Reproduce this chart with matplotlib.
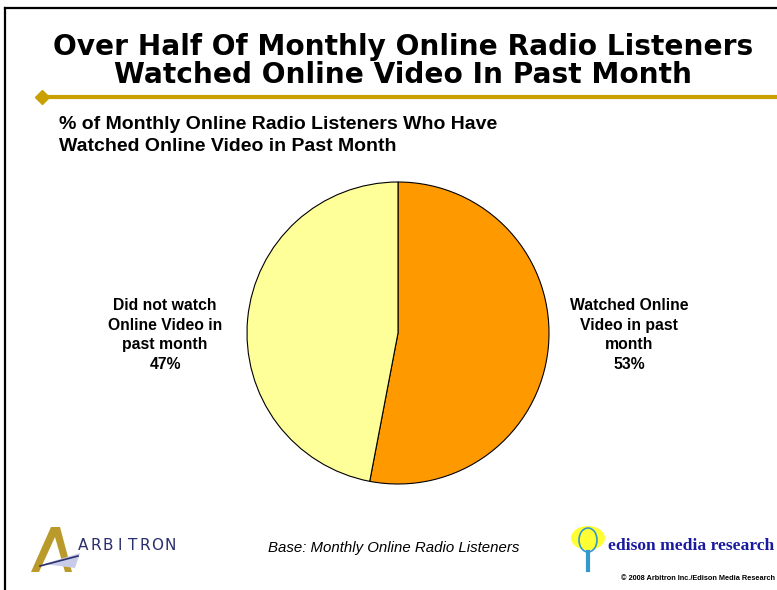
import matplotlib
matplotlib.use("Agg")
import matplotlib.pyplot as plt
from matplotlib.patches import Polygon, Ellipse
from matplotlib.lines import Line2D

W, H = 777, 590

# ---- data ----
categories = ["Watched Online\nVideo in past\nmonth", "Did not watch\nOnline Video in\npast month"]
values = [53, 47]
colors = ["#FF9900", "#FFFF99"]
title_lines = ["Over Half Of Monthly Online Radio Listeners", "Watched Online Video In Past Month"]
subtitle_lines = ["% of Monthly Online Radio Listeners Who Have", "Watched Online Video in Past Month"]
base_note = "Base: Monthly Online Radio Listeners"
copyright_note = "\u00a9 2008 Arbitron Inc./Edison Media Research"
arbitron_name = "ARBITRON"
edison_name = "edison media research"

plt.rcParams['font.family'] = ['Liberation Sans', 'DejaVu Sans']

fig = plt.figure(figsize=(W / 100, H / 100), dpi=100)
fig.patch.set_facecolor("white")


def fx(x):
    return x / W


def fy(y):
    return 1 - y / H


# frame
fig.add_artist(Line2D([fx(5), fx(5)], [fy(8), fy(590)], color="black", lw=1.6))
fig.add_artist(Line2D([fx(5), fx(777)], [fy(8), fy(8)], color="black", lw=1.6))

# title (baselines at 55 and 83)
for i, line in enumerate(title_lines):
    fig.text(fx(403), fy(55 + 28 * i), line, ha="center", va="baseline", fontsize=20.2,
             fontweight="bold", color="black", family=["DejaVu Sans"])

# gold rule with diamond
gold = "#C9A000"
fig.add_artist(Line2D([fx(42), fx(777)], [fy(97), fy(97)], color=gold, lw=3))
fig.add_artist(Line2D([fx(42)], [fy(97)], marker="D", markersize=7.5, color=gold,
                      markeredgecolor=gold))

# subtitle (baselines at 129 and 151)
for i, line in enumerate(subtitle_lines):
    fig.text(fx(59), fy(129 + 22 * i), line, ha="left", va="baseline", fontsize=14,
             fontweight="bold", color="black")

# pie
cx, cy, r = 398, 333, 151
ax = fig.add_axes([fx(cx - r), fy(cy + r), 2 * r / W, 2 * r / H])
ax.pie(values, colors=colors, startangle=90, counterclock=False,
       wedgeprops=dict(edgecolor="black", linewidth=0.8))
ax.set_xlim(-1.0, 1.0)
ax.set_ylim(-1.0, 1.0)
ax.set_aspect("auto")
ax.axis("off")

# pie labels
fig.text(fx(629), fy(335), f"{categories[0]}\n{values[0]}%", ha="center", va="center",
         fontsize=11.3, fontweight="bold", linespacing=1.38)
fig.text(fx(165), fy(335), f"{categories[1]}\n{values[1]}%", ha="center", va="center",
         fontsize=11.3, fontweight="bold", linespacing=1.38)

# base note
fig.text(fx(394), fy(548), base_note, ha="center", va="center", fontsize=10.8,
         style="italic")

# Arbitron logo (simplified)
tri = Polygon([[fx(31), fy(572)], [fx(51), fy(527)], [fx(60), fy(527)],
               [fx(72), fy(572)], [fx(65), fy(572)], [fx(55), fy(537)],
               [fx(39), fy(572)]], closed=True, transform=fig.transFigure,
              facecolor="#B99A2A", edgecolor="none")
fig.add_artist(tri)
fig.add_artist(Polygon([[fx(44), fy(564)], [fx(80), fy(553)], [fx(75), fy(568)]],
                       closed=True, transform=fig.transFigure,
                       facecolor="#C8CCE8", edgecolor="none"))
fig.add_artist(Line2D([fx(40), fx(78)], [fy(566), fy(556)], color="#2B2F6B", lw=1.2))
for i, ch in enumerate(arbitron_name):
    fig.text(fx(83 + i * 12.4), fy(545), ch, ha="center", va="center", fontsize=11,
             color="#2B2F6B", family=["DejaVu Sans"])

# Edison logo (simplified)
fig.add_artist(Ellipse((fx(588), fy(538)), 34 / W, 24 / H, transform=fig.transFigure,
                       facecolor="#FFFF33", edgecolor="none"))
fig.add_artist(Ellipse((fx(588), fy(540)), 18 / W, 24 / H, transform=fig.transFigure,
                       facecolor="none", edgecolor="#3399CC", lw=1.2))
fig.add_artist(Line2D([fx(588), fx(588)], [fy(552), fy(570)], color="#3399CC", lw=3))
fig.text(fx(608), fy(546), edison_name, ha="left", va="center",
         fontsize=12.6, fontweight="bold", color="#1A1AA0",
         family=["Liberation Serif", "DejaVu Serif"])
fig.text(fx(775), fy(578), copyright_note, ha="right", va="center", fontsize=5.3,
         fontweight="bold")

fig.savefig("out.png", dpi=100, facecolor="white")
